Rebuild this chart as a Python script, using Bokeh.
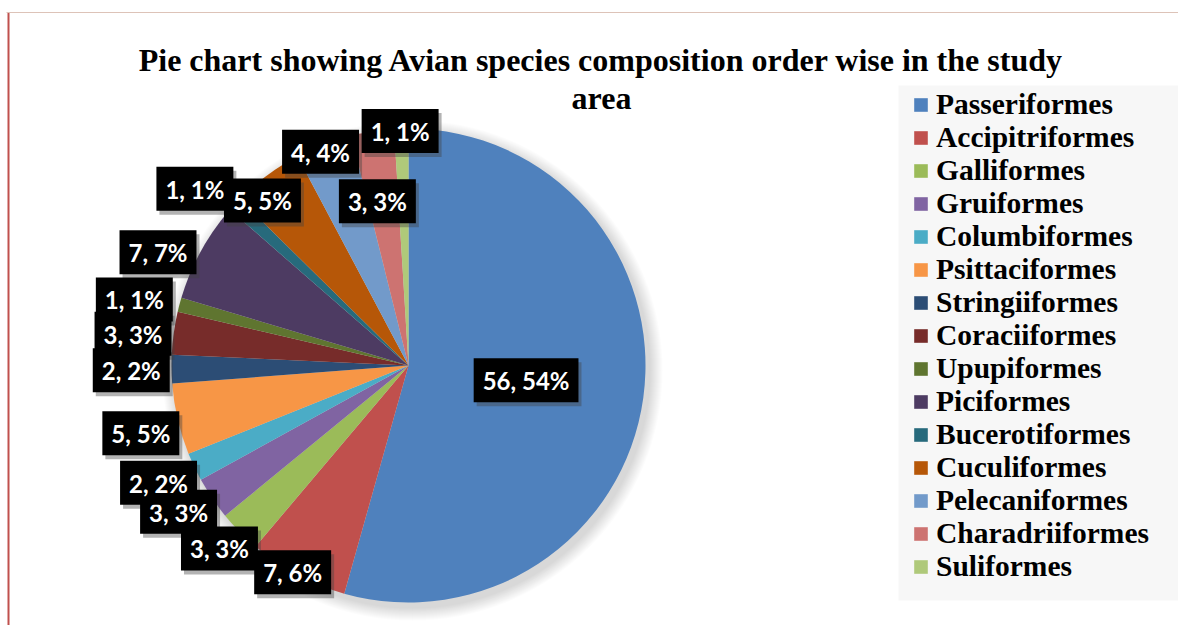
import numpy as np
from bokeh.plotting import figure
from bokeh.models import Range1d, ColumnDataSource, Legend, LegendItem, Label
from bokeh.core.properties import value
from bokeh.embed import file_html
from bokeh.resources import INLINE

# Avian orders recorded in the study area
orders = [
    "Passeriformes", "Accipitriformes", "Galliformes", "Gruiformes",
    "Columbiformes", "Psittaciformes", "Stringiiformes", "Coraciiformes",
    "Upupiformes", "Piciformes", "Bucerotiformes", "Cuculiformes",
    "Pelecaniformes", "Charadriiformes", "Suliformes",
]
# number of species per order
species = [56, 7, 3, 3, 2, 5, 2, 3, 1, 7, 1, 5, 4, 3, 1]
# percentage shown next to each count
percent = [54, 6, 3, 3, 2, 5, 2, 3, 1, 7, 1, 5, 4, 3, 1]

colors = [
    "#4F81BD", "#C0504D", "#9BBB59", "#8064A2", "#4BACC6", "#F79646",
    "#2C4D75", "#772C2A", "#5F7530", "#4D3B62", "#276A7C", "#B65708",
    "#729ACA", "#CD7371", "#AFC97A",
]

# label placement: distance from centre (fraction of radius) and angular nudge (deg)
label_r = [0.50, 1.0, 1.11, 1.15, 1.165, 1.165, 1.17, 1.17, 1.19, 1.16, 1.17, 0.93, 0.975, 0.705, 0.99]
label_da = [0.7, -1.3, -0.5, -1.6, -0.2, 1.1, 0.1, 1.3, 1.3, 4.5, 3.2, 4.8, 1.4, 2.0, 0.3]

W, H = 1178, 625
cx, cy, R = 408, 260, 237

vals = np.array(species, dtype=float)
frac = vals / vals.sum()
cum = np.concatenate([[0.0], np.cumsum(frac)])
# clockwise from twelve o'clock
start = np.pi / 2 - 2 * np.pi * cum[:-1]
end = np.pi / 2 - 2 * np.pi * cum[1:]
mid = (start + end) / 2 + np.radians(label_da)

src = ColumnDataSource(dict(
    order=orders, start=start, end=end, color=colors,
))

lab = ColumnDataSource(dict(
    x=cx + R * np.array(label_r) * np.cos(mid),
    y=cy + R * np.array(label_r) * np.sin(mid),
    text=[f"{n}, {q}%" for n, q in zip(species, percent)],
))

p = figure(width=W, height=H, x_range=Range1d(0, W), y_range=Range1d(0, H),
           output_backend="svg", toolbar_location=None, min_border=0,
           background_fill_color="white", border_fill_color="white")
p.axis.visible = False
p.grid.visible = False
p.outline_line_color = None

# frame lines
p.segment(x0=[8], y0=[0], x1=[8], y1=[H - 12], line_color="#C0504D", line_width=2)
p.segment(x0=[6], y0=[H - 12], x1=[W], y1=[H - 12], line_color="#DDC3B8", line_width=1)

# legend panel background
p.quad(left=[898], right=[W], top=[H - 85], bottom=[H - 600],
       fill_color="#F7F7F7", line_color=None)

# soft shadow behind the pie
for k in range(1, 14):
    p.circle(x=[cx + 4], y=[cy - 5], radius=R + k, fill_color="#808080",
             fill_alpha=0.022, line_color=None)

wedges = p.wedge(x=cx, y=cy, radius=R, start_angle="start", end_angle="end",
                 direction="clock", fill_color="color", line_color=None, source=src)

pad = dict(left=9, right=9, top=8, bottom=7)
# data labels with drop shadow
p.text(x="x", y="y", text="text", source=lab, text_font=value("Lato"),
       text_font_style="bold", text_font_size="24px", text_alpha=0,
       text_align="center", text_baseline="middle", x_offset=3, y_offset=4,
       background_fill_color="#404040", background_fill_alpha=0.4, padding=pad)
p.text(x="x", y="y", text="text", source=lab, text_font=value("Lato"),
       text_font_style="bold", text_font_size="24px", text_color="white",
       text_align="center", text_baseline="middle",
       background_fill_color="black", padding=pad)

# title
for txt, yb in [("Pie chart showing Avian species composition order wise in the study", H - 59),
                ("area", H - 97)]:
    p.add_layout(Label(x=601, y=yb, text=txt, text_align="center",
                       text_baseline="alphabetic", text_font="Liberation Serif",
                       text_font_style="bold", text_font_size="32px",
                       text_color="black"))

items = [LegendItem(label=o, renderers=[wedges], index=i) for i, o in enumerate(orders)]
legend = Legend(items=items, location=(912, 42), orientation="vertical",
                label_text_font="Liberation Serif", label_text_font_style="bold",
                label_text_font_size="29.5px", label_text_color="black",
                glyph_width=17, glyph_height=17, label_standoff=7,
                spacing=0, padding=0, margin=0,
                background_fill_alpha=0, border_line_color=None)
p.add_layout(legend)

open("out.html", "w").write(file_html(p, INLINE))
